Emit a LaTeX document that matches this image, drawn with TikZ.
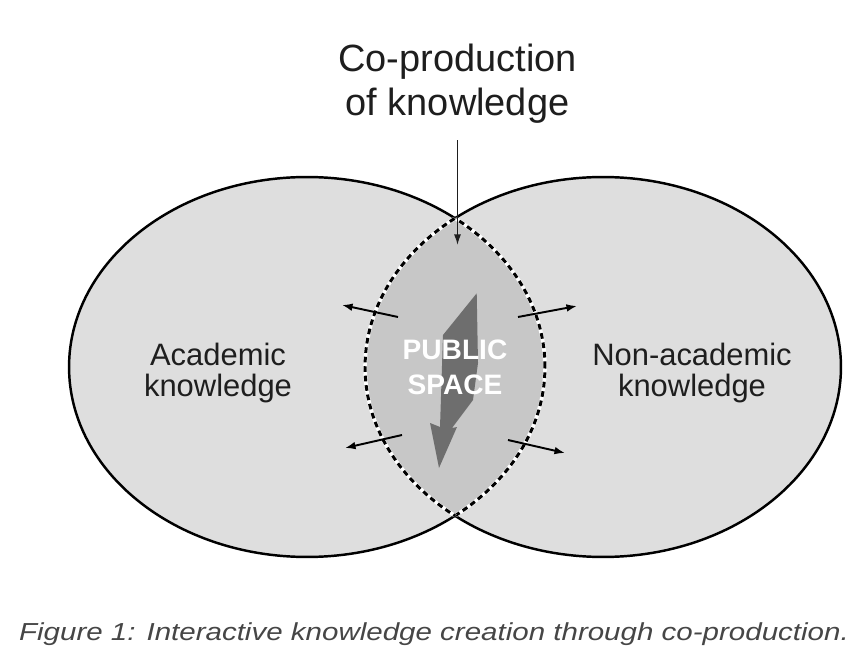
\documentclass[tikz,border=0pt]{standalone}
\usepackage{fontspec}
\setmainfont{Liberation Sans}
\newfontfamily\captionfont[FakeStretch=1.2]{Liberation Sans}
\definecolor{ovalgrey}{RGB}{222,222,222}
\definecolor{lensgrey}{RGB}{199,199,199}
\definecolor{boltgrey}{RGB}{110,110,110}
\definecolor{inkgrey}{RGB}{30,30,30}
\definecolor{captiongrey}{RGB}{70,70,70}
\usepackage{tikz}
\usetikzlibrary{arrows.meta, positioning, calc}
\tikzset{
  oval/.style={x radius=4.76cm, y radius=3.8cm},
  spill/.style={-{Latex[length=6pt, width=4.4pt]}, line width=1.1pt, black},
  lensedge/.style={line width=1.7pt, dash pattern=on 3.2pt off 2.2pt, black}
}

\begin{document}
\begin{tikzpicture}[x=0.02cm, y=-0.02cm]
  \useasboundingbox (0,0) rectangle (864,661);
  \coordinate (lc) at (307,367);
  \coordinate (rc) at (603,367);
  \fill[white] (0,0) rectangle (864,661);
  \filldraw[fill=ovalgrey, draw=black, line width=1.4pt] (lc) ellipse [oval];
  \filldraw[fill=ovalgrey, draw=black, line width=1.4pt] (rc) ellipse [oval];
  \begin{scope}
    \clip (rc) ellipse [oval];
    \fill[lensgrey] (lc) ellipse [oval];
    \draw[white, line width=2.1pt] (lc) ellipse [oval];
    \draw[lensedge] (lc) ellipse [oval];
  \end{scope}
  \begin{scope}
    \clip (lc) ellipse [oval];
    \draw[white, line width=2.1pt] (rc) ellipse [oval];
    \draw[lensedge] (rc) ellipse [oval];
  \end{scope}
  \fill[boltgrey] (476.7,293.3) -- (478,363) -- (473,400) -- (452,428) -- (457,427)
       -- (439,468) -- (430,423) -- (440,427) -- (443,335) -- cycle;

  \node[inner sep=0, align=center, text=inkgrey,
        font=\fontsize{21.6}{25}\selectfont] (title) at (457.5,83.5)
       {Co-production\\of knowledge};
  \node[inner sep=0, align=center, text=inkgrey,
        font=\fontsize{17.6}{18}\selectfont] (acad) at (218,373)
       {Academic\\knowledge};
  \node[inner sep=0, align=center, text=inkgrey,
        font=\fontsize{17.6}{18}\selectfont] (nonacad) at (692,373)
       {Non-academic\\knowledge};
  \node[inner sep=0, align=center, text=white,
        font=\fontsize{16}{19.8}\selectfont\bfseries] (public) at (455,367.5)
       {PUBLIC\\SPACE};
  \node[anchor=base, inner sep=0, text=captiongrey,
        font=\fontsize{14}{16}\selectfont\captionfont\itshape] (caption) at (434,640)
       {Figure 1: Interactive knowledge creation through co-production.};

  \coordinate (cp) at (457.5,245);
  \draw[-{Latex[length=6pt, width=4pt]}, line width=0.8pt, inkgrey]
       ([yshift=-9.5pt]title.south) -- (cp);

  \coordinate (nwIn) at (398,317);  \coordinate (nwOut) at (342,305);
  \coordinate (swIn) at (402,435);  \coordinate (swOut) at (345,448);
  \coordinate (neIn) at (518,317);  \coordinate (neOut) at (577,306);
  \coordinate (seIn) at (508,440);  \coordinate (seOut) at (565,453);
  \draw[spill] (nwIn) -- (nwOut);
  \draw[spill] (swIn) -- (swOut);
  \draw[spill] (neIn) -- (neOut);
  \draw[spill] (seIn) -- (seOut);
\end{tikzpicture}
\end{document}
